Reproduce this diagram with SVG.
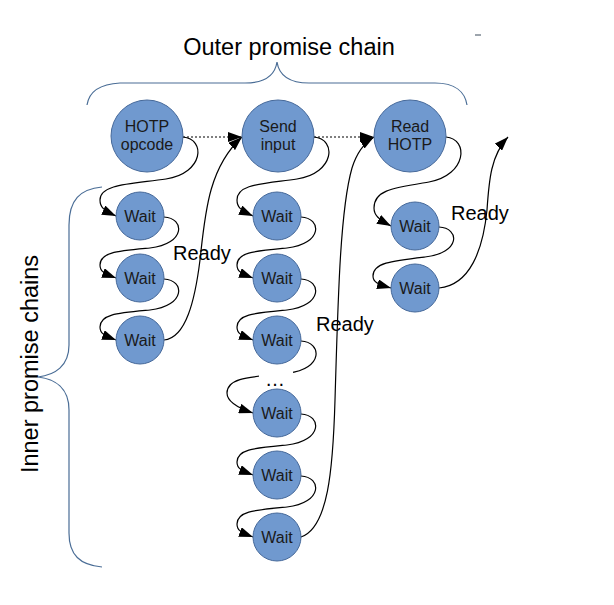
<svg xmlns="http://www.w3.org/2000/svg" width="614" height="605" viewBox="0 0 614 605">
<style>
.node circle{fill:#7099cf;stroke:#46699a;stroke-width:1}
.node text{font-family:"Liberation Sans",Arial,sans-serif;font-size:16px;fill:#1a1a1a;text-anchor:middle}
.conn path{fill:none;stroke:#000;stroke-width:1.2}
.conn .dot{stroke-dasharray:2,2;stroke-width:1.2}
.brace{fill:none;stroke:#4a6d96;stroke-width:1.2}
.lbl{font-family:"Liberation Sans",Arial,sans-serif;font-size:20px;fill:#000}
.title{font-family:"Liberation Sans",Arial,sans-serif;font-size:23.5px;fill:#000}
</style>
<defs>
<marker id="ah" viewBox="0 0 14 10" refX="14" refY="5" markerWidth="14" markerHeight="10" markerUnits="userSpaceOnUse" orient="auto">
<path d="M0,0 L14,5 L0,10 z" fill="#000"/>
</marker>
</defs>
<rect width="614" height="605" fill="#fff"/>

<g id="labels">
<text class="title" x="289" y="55" text-anchor="middle">Outer promise chain</text>
<text class="title" transform="translate(38,364) rotate(-90)" text-anchor="middle">Inner promise chains</text>
<path class="brace" d="M87,105 C89,92 100,84 120,83 L245,83 C265,83 275,75 277,62 C279,75 289,83 309,83 L435,83 C455,83 465,92 467,105"/>
<path class="brace" d="M102,187 C80,189 69,200 69,225 L69,345 C69,366 55,375 38,377 C55,379 69,388 69,410 L69,533 C69,555 80,565 102,567"/>
<line x1="475" y1="35" x2="481" y2="35" stroke="#3a4a5a" stroke-width="1"/>
</g>

<g id="connectors" class="conn">
<path class="dot" d="M183,137 L242,137" marker-end="url(#ah)"/>
<path class="dot" d="M314,137 L374,137" marker-end="url(#ah)"/>
<!-- column 1 -->
<path d="M183,137 C206,139 204,173 166,179 C131,184 100,184 100,200 C100,207 103,210 116,216" marker-end="url(#ah)"/>
<path d="M164,217 C185,218 186,244 150,248 C118,251 100,252 100,265 C100,271 103,273 116,278" marker-end="url(#ah)"/>
<path d="M164,279 C185,280 186,306 150,310 C118,313 100,314 100,327 C100,333 103,335 116,340" marker-end="url(#ah)"/>
<path d="M164,340 C186,338 195,300 200,260 C205,215 208,168 242,137" marker-end="url(#ah)"/>
<!-- column 2 -->
<path d="M314,137 C337,139 335,173 297,179 C262,184 237,184 237,200 C237,207 240,210 253,216" marker-end="url(#ah)"/>
<path d="M301,217 C322,218 323,244 287,248 C255,251 237,252 237,265 C237,271 240,273 253,278" marker-end="url(#ah)"/>
<path d="M301,279 C322,280 323,306 287,310 C255,313 237,314 237,327 C237,333 240,335 253,340" marker-end="url(#ah)"/>
<path d="M301,341 C322,342 324,369 288,373 C252,377 227,377 227,393 C227,402 238,408 253,413" marker-end="url(#ah)"/>
<path d="M301,414 C322,415 323,441 287,445 C255,448 237,449 237,462 C237,468 240,470 253,475" marker-end="url(#ah)"/>
<path d="M301,476 C322,477 323,503 287,507 C255,510 237,511 237,524 C237,530 240,532 253,537" marker-end="url(#ah)"/>
<path d="M301,537 C328,528 333,470 335,400 C338,300 340,210 352,168 C357,152 364,143 374,137" marker-end="url(#ah)"/>
<!-- column 3 -->
<path d="M446,137 C469,139 467,175 429,182 C393,188 374,190 374,208 C374,215 378,219 391,226" marker-end="url(#ah)"/>
<path d="M439,227 C460,228 461,253 425,257 C391,261 373,263 373,276 C373,282 377,284 391,288" marker-end="url(#ah)"/>
<path d="M439,288 C470,285 483,250 487,210 C489,180 491,155 508,137" marker-end="url(#ah)"/>
</g>

<g id="ellipsis">
<rect x="259" y="368" width="34" height="14" fill="#fff"/>
<text class="lbl" x="275" y="386" text-anchor="middle" font-size="22">…</text>
</g>

<g id="n_hotp" class="node"><circle cx="147" cy="136" r="36"/><text x="147" y="132">HOTP</text><text x="147" y="150">opcode</text></g>
<g id="n_send" class="node"><circle cx="278" cy="136" r="36"/><text x="278" y="132">Send</text><text x="278" y="150">input</text></g>
<g id="n_read" class="node"><circle cx="410" cy="136" r="36"/><text x="410" y="132">Read</text><text x="410" y="150">HOTP</text></g>

<g id="w1a" class="node"><circle cx="140" cy="216" r="24"/><text x="140" y="222">Wait</text></g>
<g id="w1b" class="node"><circle cx="140" cy="278" r="24"/><text x="140" y="284">Wait</text></g>
<g id="w1c" class="node"><circle cx="140" cy="340" r="24"/><text x="140" y="346">Wait</text></g>

<g id="w2a" class="node"><circle cx="277" cy="216" r="24"/><text x="277" y="222">Wait</text></g>
<g id="w2b" class="node"><circle cx="277" cy="278" r="24"/><text x="277" y="284">Wait</text></g>
<g id="w2c" class="node"><circle cx="277" cy="340" r="24"/><text x="277" y="346">Wait</text></g>
<g id="w2d" class="node"><circle cx="277" cy="413" r="24"/><text x="277" y="419">Wait</text></g>
<g id="w2e" class="node"><circle cx="277" cy="475" r="24"/><text x="277" y="481">Wait</text></g>
<g id="w2f" class="node"><circle cx="277" cy="537" r="24"/><text x="277" y="543">Wait</text></g>

<g id="w3a" class="node"><circle cx="415" cy="226" r="24"/><text x="415" y="232">Wait</text></g>
<g id="w3b" class="node"><circle cx="415" cy="288" r="24"/><text x="415" y="294">Wait</text></g>

<g id="ready_labels">
<text class="lbl" x="173" y="260">Ready</text>
<text class="lbl" x="316" y="331">Ready</text>
<text class="lbl" x="451" y="220">Ready</text>
</g>
</svg>
